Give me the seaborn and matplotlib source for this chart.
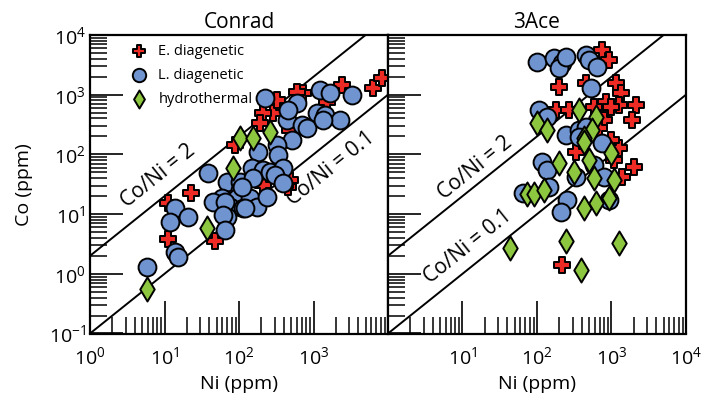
import numpy as np
import pandas as pd
import matplotlib
matplotlib.use("Agg")
import matplotlib.pyplot as plt
import seaborn as sns
from matplotlib.ticker import FixedLocator, FixedFormatter, LogLocator, NullFormatter

sns.set_style("white")
plt.rcParams["font.family"] = ["Open Sans", "DejaVu Sans"]
plt.rcParams["font.weight"] = 500
plt.rcParams["mathtext.default"] = "regular"
for key in ["text.color", "axes.labelcolor", "xtick.color", "ytick.color", "axes.edgecolor"]:
    plt.rcParams[key] = "black"

# ---- Conrad ----
conrad_early_ni = [23, 11, 11, 47, 6220, 8200, 2390, 716, 595, 284, 208, 480, 321, 190, 1500, 451, 480, 208, 88]
conrad_early_co = [22.4, 15.2, 3.9, 3.6, 1295, 1900, 1455, 1070, 1110, 493, 493, 256, 815, 335, 755, 28, 37, 31, 143]

conrad_late_ni = [222, 1210, 1650, 3250, 1100, 1410, 2240, 437, 595, 451, 695, 510, 321, 179, 331,
                  38, 148, 208, 259, 386, 302, 69, 102, 153, 102, 59, 93, 140, 45, 75, 112, 173,
                  13.8, 20.6, 11.8, 69, 109, 65, 120, 236, 61, 65, 13.8, 15.1, 5.8, 386, 811, 1330]
conrad_late_co = [880, 1200, 1070, 990, 493, 456, 377, 377, 726, 554, 310, 174, 143, 109, 97,
                  49, 59, 55, 50, 59, 45, 34, 34, 40, 25, 18.5, 18.5, 18.5, 15.8, 13, 12.6, 13,
                  12.6, 8.9, 7.3, 8.9, 28, 15.8, 12.6, 19, 9.6, 5.4, 2.3, 1.9, 1.29, 33, 276, 377]

conrad_hydro_ni = [102, 153, 259, 83, 37, 5.8]
conrad_hydro_co = [188, 188, 237, 59, 5.8, 0.55]

# ---- 3Ace ----
ace_early_ni = [749, 929, 199, 457, 1150, 1340, 1265, 2130, 1880, 182, 847, 988, 271, 585,
                2005, 1265, 1385, 336, 219, 797, 683, 988, 1083]
ace_early_co = [5620, 3820, 1346, 1570, 1570, 1070, 671, 671, 377, 554, 755, 622, 554, 622,
                61, 128, 42, 109, 1.39, 377, 276, 174, 80]

ace_late_ni = [101, 171, 219, 199, 247, 457, 502, 642, 533, 108, 138, 247, 369, 457,
               118, 138, 64, 147, 255, 212, 336, 369, 749, 929, 585, 797]
ace_late_co = [3540, 4130, 3400, 2800, 4290, 4640, 3820, 2920, 1295, 554, 422, 211, 256, 287,
               74, 55, 23, 28, 17, 10.8, 42, 195, 155, 17, 66, 42]

ace_hydro_ni = [101, 138, 369, 622, 550, 430, 199, 316, 430, 502, 585, 988, 1083, 929,
                74, 92, 126, 430, 622, 43, 247, 1265, 392]
ace_hydro_co = [335, 256, 554, 422, 256, 188, 71, 50, 161, 80, 40, 105, 37, 18.5,
                22, 22, 25, 12.6, 15.2, 2.7, 3.6, 3.25, 1.15]

groups = ["E. diagenetic", "L. diagenetic", "hydrothermal"]
ratios = [2, 0.1]
ratio_labels = ["Co/Ni = 2", "Co/Ni = 0.1"]
panel_titles = ["Conrad", "3Ace"]


def frame(site, data):
    rows = []
    for grp, (ni, co) in zip(groups, data):
        rows.append(pd.DataFrame({"site": site, "type": grp, "Ni": ni, "Co": co}))
    return pd.concat(rows, ignore_index=True)


df = pd.concat([
    frame("Conrad", [(conrad_early_ni, conrad_early_co), (conrad_late_ni, conrad_late_co),
                     (conrad_hydro_ni, conrad_hydro_co)]),
    frame("3Ace", [(ace_early_ni, ace_early_co), (ace_late_ni, ace_late_co),
                   (ace_hydro_ni, ace_hydro_co)]),
], ignore_index=True)

styles = {
    "E. diagenetic": dict(marker="P", s=135, color="#ee2a24"),
    "L. diagenetic": dict(marker="o", s=165, color="#7094d0"),
    "hydrothermal": dict(marker="d", s=150, color="#8dc63f"),
}

fig = plt.figure(figsize=(7.14, 4.07), dpi=100)
ax_w, ax_h = 298 / 714, 298.5 / 407
bottom = 1 - 333.5 / 407
axes = [fig.add_axes([90 / 714, bottom, ax_w, ax_h]),
        fig.add_axes([388 / 714, bottom, ax_w, ax_h])]

label_pos = {
    "Conrad": [(8.3, 44.0), (1700, 58)],
    "3Ace": [(14.8, 60.0), (11.8, 2.9)],
}

for i, (ax, site) in enumerate(zip(axes, panel_titles)):
    ax.set_xscale("log")
    ax.set_yscale("log")
    ax.set_xlim(1, 1e4)
    ax.set_ylim(0.1, 1e4)

    # reference ratio lines
    xs = np.array([1e-2, 1e5])
    for r in ratios:
        ax.plot(xs, r * xs, color="black", lw=1.4, zorder=1)

    sub = df[df["site"] == site]
    for z, grp in enumerate(groups):
        st = styles[grp]
        sns.scatterplot(data=sub[sub["type"] == grp], x="Ni", y="Co", ax=ax,
                        marker=st["marker"], s=st["s"], color=st["color"],
                        edgecolor="black", linewidth=1.4, zorder=3 + z,
                        label=grp if i == 0 else None, legend=False)

    # ratio labels rotated along the lines
    p0 = ax.transData.transform((10, 10))
    p1 = ax.transData.transform((100, 100))
    ang = np.degrees(np.arctan2(p1[1] - p0[1], p1[0] - p0[0]))
    for (lx, ly), txt in zip(label_pos[site], ratio_labels):
        ax.text(lx, ly, txt, rotation=ang, rotation_mode="anchor",
                ha="center", va="center", fontsize=15, zorder=2)

    ax.set_title(site, fontsize=15, pad=5)
    ax.set_xlabel("Ni (ppm)", fontsize=14, labelpad=5)

    xt = [1, 10, 100, 1000, 10000]
    xl = [f"$10^{{{int(np.log10(v))}}}$" for v in xt]
    if i == 0:
        xl[-1] = ""
    else:
        xl[0] = ""
    ax.xaxis.set_major_locator(FixedLocator(xt))
    ax.xaxis.set_major_formatter(FixedFormatter(xl))
    ax.xaxis.set_minor_locator(LogLocator(base=10, subs=np.arange(2, 10), numticks=20))
    ax.xaxis.set_minor_formatter(NullFormatter())

    yt = [0.1, 1, 10, 100, 1000, 10000]
    yl = [f"$10^{{{int(round(np.log10(v)))}}}$" for v in yt]
    ax.yaxis.set_major_locator(FixedLocator(yt))
    ax.yaxis.set_major_formatter(FixedFormatter(yl))
    ax.yaxis.set_minor_locator(LogLocator(base=10, subs=np.arange(2, 10), numticks=20))
    ax.yaxis.set_minor_formatter(NullFormatter())

    ax.tick_params(which="major", direction="in", length=24, width=1.2,
                   labelsize=14, top=False, right=False)
    ax.tick_params(axis="x", which="major", pad=9)
    ax.tick_params(axis="y", which="major", pad=3)
    ax.tick_params(which="minor", direction="in", length=12, width=1.1,
                   top=False, right=False)
    ax.tick_params(axis="y", which="both", left=True)
    ax.tick_params(axis="x", which="both", bottom=True)
    for sp in ax.spines.values():
        sp.set_linewidth(1.6)
        sp.set_color("black")
    if i == 0:
        ax.set_ylabel("Co (ppm)", fontsize=14, labelpad=11)
    else:
        ax.set_ylabel("")
        ax.tick_params(axis="y", labelleft=False)

axes[0].legend(loc="upper left", frameon=False, fontsize=10.5, handletextpad=0.35,
               labelspacing=0.62, borderaxespad=0.2, markerscale=0.75,
               bbox_to_anchor=(0.085, 1.0))

fig.savefig("out.png", dpi=100)
